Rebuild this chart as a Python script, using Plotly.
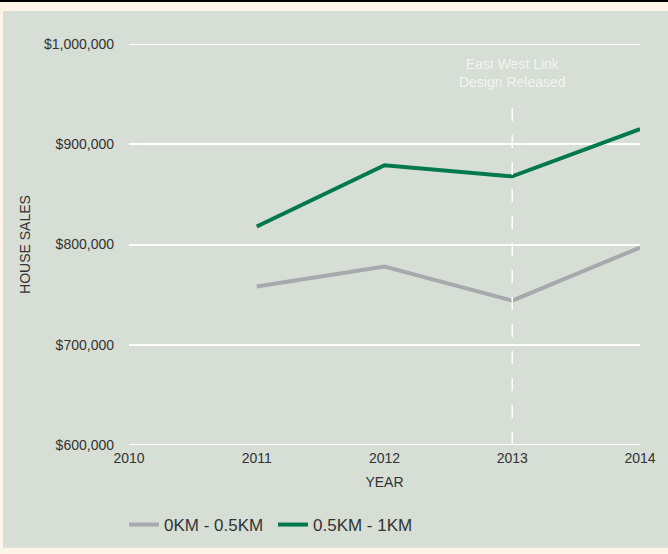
import plotly.graph_objects as go

years = [2011, 2012, 2013, 2014]
near_vals = [758000, 778000, 744000, 797000]
far_vals = [818000, 879000, 868000, 915000]
series_names = ["0KM - 0.5KM", "0.5KM - 1KM"]
y_ticks = [600000, 700000, 800000, 900000, 1000000]
y_labels = ["$600,000", "$700,000", "$800,000", "$900,000", "$1,000,000"]
x_ticks = [2010, 2011, 2012, 2013, 2014]
event_year = 2013
event_text = "East West Link<br>Design Released"

W, H = 668, 554
L, R, T, B = 129, 28, 44, 108
pw, ph = W - L - R, H - T - B

def px_x(p):
    return (p - L) / pw

def px_y(p):
    return (H - B - p) / ph

fig = go.Figure()
fig.add_trace(go.Scatter(x=years, y=near_vals, mode="lines", name=series_names[0],
                         line=dict(color="#A7A9AC", width=4)))
fig.add_trace(go.Scatter(x=years, y=far_vals, mode="lines", name=series_names[1],
                         line=dict(color="#007A4D", width=4)))

shapes = [
    dict(type="rect", xref="paper", yref="paper", x0=px_x(3), x1=px_x(670), y0=px_y(549), y1=px_y(11),
         fillcolor="#D6DED5", line=dict(width=0), layer="below"),
    dict(type="rect", xref="paper", yref="paper", x0=px_x(-2), x1=px_x(670), y0=px_y(2), y1=px_y(0),
         fillcolor="#000000", line=dict(width=0), layer="below"),
]
for v in (y_ticks[0], y_ticks[-1]):
    shapes.append(dict(type="line", xref="paper", yref="y", x0=0, x1=1, y0=v, y1=v,
                       line=dict(color="white", width=2), layer="below"))
shapes.append(dict(type="line", xref="x", yref="paper", x0=event_year, x1=event_year, y0=0, y1=px_y(94),
                   line=dict(color="white", width=1.5, dash="13px,14px"), layer="above"))

fig.update_layout(
    width=W, height=H,
    margin=dict(l=L, r=R, t=T, b=B),
    paper_bgcolor="#FFF4E8",
    plot_bgcolor="rgba(0,0,0,0)",
    font=dict(family="Liberation Sans, Arial, sans-serif", size=14, color="#333333"),
    shapes=shapes,
    showlegend=True,
    legend=dict(orientation="h", x=px_x(124), xanchor="left", y=px_y(525), yanchor="middle",
                font=dict(size=17, color="#333333"), bgcolor="rgba(0,0,0,0)", itemwidth=30,
                entrywidth=104, entrywidthmode="pixels"),
    annotations=[dict(x=event_year, y=px_y(54), xref="x", yref="paper", text=event_text,
                      showarrow=False, font=dict(color="#F2F4F1", size=14), align="center",
                      yanchor="top")],
)
fig.update_xaxes(range=[2010, 2014], tickvals=x_ticks, ticktext=[str(v) for v in x_ticks],
                 showgrid=False, zeroline=False, showline=False, ticks="",
                 title=dict(text="YEAR", font=dict(size=14), standoff=12),
                 tickfont=dict(size=14), ticklabelstandoff=3)
fig.update_yaxes(range=[600000, 1000000], tickvals=y_ticks, ticktext=y_labels,
                 showgrid=True, gridcolor="white", gridwidth=2, zeroline=False, showline=False,
                 ticks="", ticklabelstandoff=14,
                 title=dict(text="HOUSE SALES", font=dict(size=14), standoff=10),
                 tickfont=dict(size=14))

fig.write_html("out.html", config={"displayModeBar": False},
               post_script="document.body.style.margin='0';document.body.style.padding='0';")
